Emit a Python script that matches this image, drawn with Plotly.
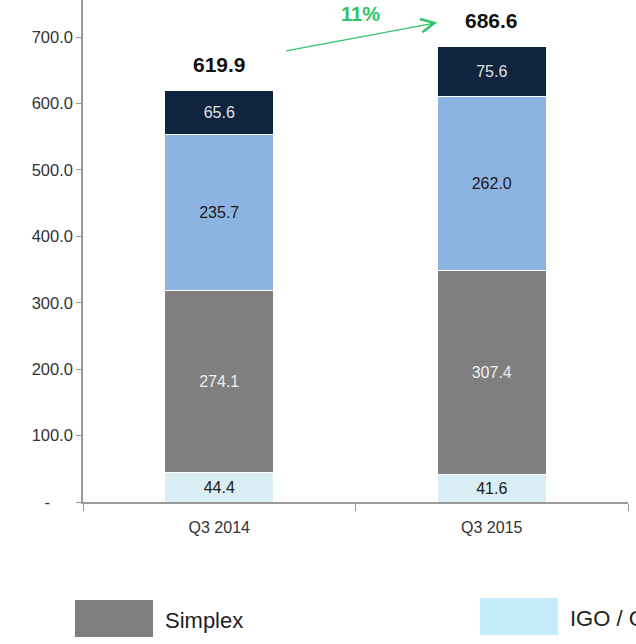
import plotly.graph_objects as go

# Quarterly revenue by segment
quarters = ["Q3 2014", "Q3 2015"]
igo = [44.4, 41.6]
simplex = [274.1, 307.4]
segment_c = [235.7, 262.0]
segment_d = [65.6, 75.6]
totals = [619.9, 686.6]
growth_label = "11%"

y_ticks = [0, 100, 200, 300, 400, 500, 600, 700]
y_tick_text = ["-\u00a0\u00a0\u00a0\u00a0\u00a0", "100.0", "200.0", "300.0", "400.0", "500.0", "600.0", "700.0"]

FONT = "Liberation Sans, Arial, sans-serif"

series = [
    ("IGO / Corporate", igo, "#d9eef5", "#1a1a1a"),
    ("Simplex", simplex, "#7f7f7f", "#eeeeee"),
    ("Other", segment_c, "#8db3e2", "#1a1a1a"),
    ("Other 2", segment_d, "#10243f", "#e0e0e0"),
]

fig = go.Figure()
for name, vals, color, tcolor in series:
    fig.add_trace(go.Bar(
        x=quarters, y=vals, name=name,
        marker=dict(color=color, line=dict(color="white", width=1)),
        width=0.4,
        text=[f"{v:.1f}" for v in vals],
        textposition="inside", insidetextanchor="middle",
        textfont=dict(family=FONT, size=16, color=tcolor),
        textangle=0,
        showlegend=False,
        hoverinfo="skip",
    ))

# totals above the stacks
for q, t in zip(quarters, totals):
    fig.add_annotation(x=q, y=t, text=f"<b>{t:.1f}</b>", showarrow=False,
                       yanchor="bottom", yshift=12,
                       font=dict(family=FONT, size=21, color="#111111"))

# growth arrow between the two quarters
fig.add_annotation(x=0.80, y=722, ax=0.24, ay=679, xref="x", yref="y",
                   axref="x", ayref="y", text="", showarrow=True,
                   arrowhead=5, arrowsize=2.2, arrowwidth=1.2,
                   arrowcolor="#2ec46a")
fig.add_annotation(x=0.52, y=735, text=f"<b>{growth_label}</b>", showarrow=False,
                   font=dict(family=FONT, size=20, color="#2ec46a"))

# legend drawn below the plot
legend_items = [("Simplex", "#7f7f7f", 75, 600), ("IGO / Corporate", "#c6ecfc", 480, 598)]
W, H = 636, 644
ml, mr, mt, mb = 83, 8, 0, 142
pw, ph = W - ml - mr, H - mt - mb
for label, color, px, py in legend_items:
    x0 = (px - ml) / pw
    x1 = (px + 78 - ml) / pw
    y0 = (H - mb - py) / ph
    y1 = (H - mb - py - 37) / ph
    fig.add_shape(type="rect", xref="paper", yref="paper", x0=x0, x1=x1,
                  y0=y1, y1=y0, fillcolor=color, line=dict(width=0))
    fig.add_annotation(xref="paper", yref="paper", x=(px + 88 - ml) / pw,
                       y=(H - mb - py - 20) / ph, text=label, showarrow=False,
                       xanchor="left", yanchor="middle",
                       font=dict(family=FONT, size=22, color="#222222"))

fig.update_layout(
    barmode="stack",
    width=W, height=H,
    margin=dict(l=ml, r=mr, t=mt, b=mb),
    plot_bgcolor="white", paper_bgcolor="white",
    font=dict(family=FONT, size=16, color="#333333"),
)
fig.update_yaxes(range=[0, 756], tickvals=y_ticks, ticktext=y_tick_text,
                 showgrid=False, zeroline=False, showline=True,
                 linecolor="#999999", linewidth=1.5, ticks="outside",
                 ticklen=5, tickcolor="#999999", tickfont=dict(size=16.5, color="#333333"))
fig.update_xaxes(showgrid=False, showline=True, linecolor="#999999", linewidth=1.5,
                 ticks="outside", tickson="boundaries", ticklen=7,
                 tickcolor="#999999", tickfont=dict(size=16, color="#333333"),
                 ticklabelstandoff=10, range=[-0.5, 1.5])

fig.write_html("out.html")
